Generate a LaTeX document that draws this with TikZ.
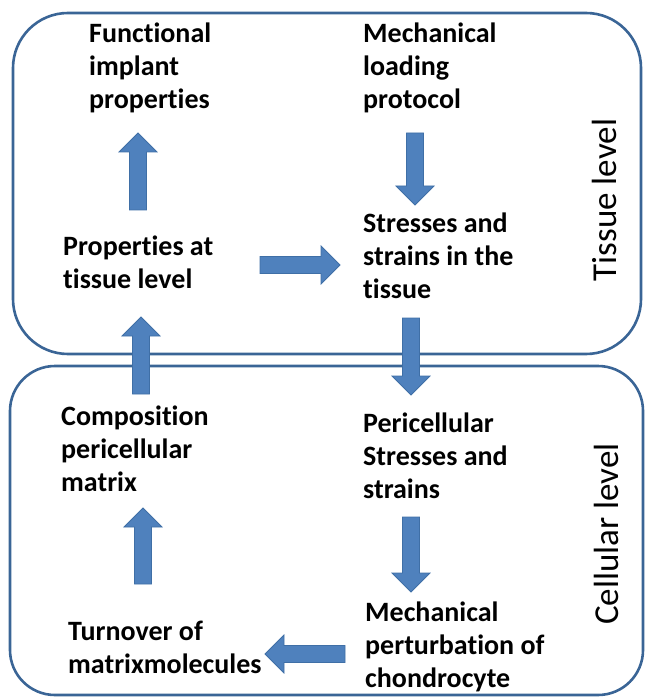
\documentclass[tikz,border=0pt]{standalone}
\usepackage{fontspec}
\setmainfont{Carlito}[Ligatures={NoCommon}]
\usetikzlibrary{calc}
\definecolor{boxline}{HTML}{3A6596}
\definecolor{arrfill}{HTML}{4F81BD}
\definecolor{arrline}{HTML}{3F6FA6}
\newcommand\lines[1]{\begin{tabular}[t]{@{}l@{}}#1\end{tabular}}
\newcommand\blockarr[2]{%
  \coordinate (tmpB) at ($(#2)!19pt!(#1)$);
  \draw[blockarrow] ($(#1)!8.5pt!90:(#2)$) -- ($(tmpB)!8.5pt!-90:(#1)$)
     -- ($(tmpB)!19pt!-90:(#1)$) -- (#2) -- ($(tmpB)!19pt!90:(#1)$)
     -- ($(tmpB)!8.5pt!90:(#1)$) -- ($(#1)!8.5pt!-90:(#2)$) -- cycle;}
\tikzset{
  levelbox/.style={draw=boxline, line width=2.6pt},
  blockarrow/.style={fill=arrfill, draw=arrline, line width=0.8pt, line join=miter},
  lab/.style={anchor=base west, inner sep=0pt, font=\fontsize{28}{33}\selectfont\bfseries},
  side/.style={inner sep=0pt, rotate=90, font=\fontsize{35}{40}\selectfont}
}
\begin{document}
\begin{tikzpicture}[x=1pt, y=-1pt]
\useasboundingbox (0,0) rectangle (647,700);
% level boxes
\draw[levelbox, rounded corners=55pt] (13,13) rectangle (641,354);
\draw[levelbox, rounded corners=45pt] (10,366) rectangle (643,695);
% labels
\node[lab] (func) at (89,43) {\lines{Functional\\implant\\properties}};
\node[lab] (load) at (363,43) {\lines{Mechanical\\loading\\protocol}};
\node[lab] (prop) at (63,255) {\lines{Properties at\\tissue level}};
\node[lab] (stress) at (363,233) {\lines{Stresses and\\strains in the\\tissue}};
\node[lab] (comp) at (61,425) {\lines{Composition\\pericellular\\matrix}};
\node[lab] (peri) at (363,432) {\lines{Pericellular\\Stresses and\\strains}};
\node[lab] (pert) at (365,621) {\lines{Mechanical\\perturbation of\\chondrocyte}};
\node[lab] (turn) at (68,640) {\lines{Turnover of\\matrixmolecules}};
\node[side] (tissue) at (604,200) {Tissue level};
\node[side] (cell) at (606,534) {Cellular level};
% arrow end points
\coordinate (a1s) at (138,210); \coordinate (a1e) at (138,133);
\coordinate (a2s) at (415,133); \coordinate (a2e) at (415,205);
\coordinate (a3s) at (260,265); \coordinate (a3e) at (340,265);
\coordinate (a4s) at (141,394); \coordinate (a4e) at (141,317);
\coordinate (a5s) at (411,318); \coordinate (a5e) at (411,395);
\coordinate (a6s) at (143,584); \coordinate (a6e) at (143,508);
\coordinate (a7s) at (411,517); \coordinate (a7e) at (411,592);
\coordinate (a8s) at (345,654); \coordinate (a8e) at (265,654);
\blockarr{a1s}{a1e}
\blockarr{a2s}{a2e}
\blockarr{a3s}{a3e}
\blockarr{a4s}{a4e}
\blockarr{a5s}{a5e}
\blockarr{a6s}{a6e}
\blockarr{a7s}{a7e}
\blockarr{a8s}{a8e}
\end{tikzpicture}
\end{document}
